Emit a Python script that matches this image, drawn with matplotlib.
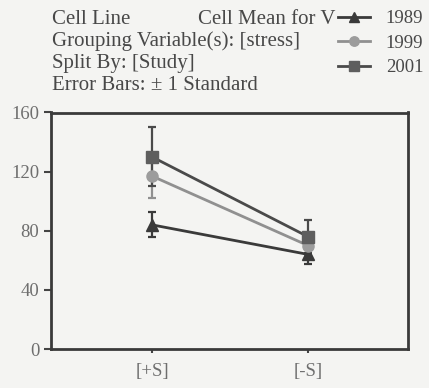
import numpy as np
import matplotlib
matplotlib.use("Agg")
import matplotlib.pyplot as plt

plt.rcParams['font.family'] = ['Liberation Serif', 'DejaVu Serif']

groups = ['[+S]', '[-S]']
studies = ['1989', '1999', '2001']
means = {'1989': [84, 64], '1999': [117, 70], '2001': [130, 76]}
errs = {'1989': [8.5, 6.5], '1999': [15, 7], '2001': [20, 11]}
yticks = [0, 40, 80, 120, 160]

colors = {'1989': '#3a3a3a', '1999': '#909090', '2001': '#4a4a4a'}
mcolors = {'1989': '#3a3a3a', '1999': '#9c9c9c', '2001': '#5e5e5e'}
markers = {'1989': '^', '1999': 'o', '2001': 's'}

W, H = 429, 388
fig = plt.figure(figsize=(W / 100, H / 100), dpi=100)
fig.patch.set_facecolor('#f4f4f2')
# axes frame: x 51..408, y 112.5..349 px
ax = fig.add_axes([51 / W, 1 - 349 / H, 357 / W, 236.5 / H])
ax.set_facecolor('#f4f4f2')

x = np.arange(len(groups))
handles = []
for s in studies:
    ax.errorbar(x, means[s], yerr=errs[s], color=colors[s], lw=0, elinewidth=1.6,
                capsize=3, capthick=1.6, zorder=2)
    h, = ax.plot(x, means[s], color=colors[s], lw=2, marker=markers[s], ms=8,
                 mfc=mcolors[s], mec=mcolors[s], zorder=3, label=s)
    handles.append(h)

ax.set_xlim(-0.647, 1.641)
ax.set_ylim(0, 160)
ax.set_yticks(yticks)
ax.set_xticks(x)
ax.set_xticklabels(groups)
ax.tick_params(labelsize=13.5, labelcolor='#6e6e6e', colors='#444444', width=1.5,
               length=5, direction='out')
ax.tick_params(axis='x', length=3, pad=7)
for sp in ax.spines.values():
    sp.set_linewidth(2)
    sp.set_color('#3a3a3a')

header = ['Cell Line', 'Grouping Variable(s): [stress]', 'Split By: [Study]',
          'Error Bars: \u00b1 1 Standard']
for i, t in enumerate(header):
    fig.text(52 / W, 1 - (19 + i * 22.3) / H, t, fontsize=15, color='#484848', va='center')
fig.text(336 / W, 1 - 19 / H, 'Cell Mean for V', fontsize=15, color='#484848',
         va='center', ha='right')

leg = fig.legend(handles=handles, labels=studies, loc='upper left',
                 bbox_to_anchor=(338 / W, 1 - 10 / H), frameon=False, fontsize=13.5,
                 borderpad=0, borderaxespad=0,
                 handlelength=1.7, handletextpad=0.85, labelspacing=0.4, markerscale=0.85)
for t in leg.get_texts():
    t.set_color('#484848')

fig.savefig('out.png', dpi=100, facecolor=fig.get_facecolor())
